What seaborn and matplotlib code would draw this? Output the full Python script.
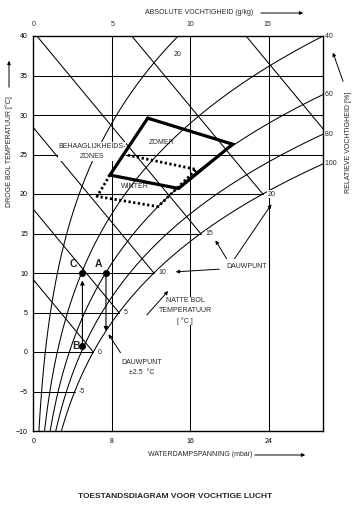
import numpy as np
import pandas as pd
import matplotlib
matplotlib.use("Agg")
import matplotlib.pyplot as plt
import seaborn as sns

# ---------------- data ----------------
sat_temp = list(range(-10, 41))
sat_pres = [2.86, 3.10, 3.35, 3.62, 3.91, 4.22, 4.55, 4.90, 5.28, 5.68,
            6.11, 6.57, 7.06, 7.58, 8.13, 8.72, 9.35, 10.02, 10.73, 11.48,
            12.28, 13.12, 14.02, 14.97, 15.98, 17.04, 18.17, 19.37, 20.63, 21.96,
            23.37, 24.86, 26.43, 28.09, 29.83, 31.67, 33.61, 35.65, 37.80, 40.06,
            42.43, 44.93, 47.55, 50.31, 53.20, 56.24, 59.42, 62.76, 66.26, 69.93, 73.78]
rh_levels = [20, 40, 60, 80, 100]
rh_right_labels = [40, 60, 80, 100]
wetbulb_levels = [0, 5, 10, 15, 20, 25]
dewpoint_labels = [-5, 0, 5, 10, 15, 20]
partial_grid_temps = [-5, 0, 5, 10, 15, 20]
full_grid_temps = [25, 30, 35]
temp_ticks = [-10, -5, 0, 5, 10, 15, 20, 25, 30, 35, 40]
pressure_ticks = [0, 8, 16, 24]
abs_hum_ticks = [0, 5, 10, 15]
zomer_p = [11.65, 20.3, 14.8, 7.8]
zomer_t = [29.6, 26.3, 20.7, 22.4]
winter_p = [7.8, 6.5, 12.7, 16.6, 9.3]
winter_t = [22.4, 19.7, 18.4, 23.1, 25.0]
point_names = ["A", "B", "C"]
point_p = [7.4, 5.0, 5.0]
point_t = [10.0, 0.8, 10.0]
dew_arrow_t = 2.3
psy_k = 0.667      # mbar per K (wet-bulb lines)
P_atm = 1013.0

W, H = 355, 512
sns.set_style("white")
plt.rcParams['font.family'] = ['Liberation Sans', 'DejaVu Sans']
fig = plt.figure(figsize=(W / 100, H / 100), dpi=100)
ax = fig.add_axes([33.3 / W, 1 - 431 / H, (323 - 33.3) / W, (431 - 36) / H])
ax.set_xlim(0, 29.5)
ax.set_ylim(-10, 40)

sat = dict(zip(sat_temp, sat_pres))
lw = 0.75
col = "black"

# relative humidity curves
rows = []
for rh in rh_levels:
    for t, ps in zip(sat_temp, sat_pres):
        rows.append({"p": ps * rh / 100.0, "T": t, "rh": rh})
df = pd.DataFrame(rows)
sns.lineplot(data=df, x="p", y="T", units="rh", estimator=None, sort=False,
             color=col, lw=lw, ax=ax, legend=False, zorder=1)

# horizontal grid lines
for t in partial_grid_temps:
    ax.plot([0, sat[t]], [t, t], color=col, lw=lw, zorder=1)
for t in full_grid_temps:
    ax.plot([0, 29.5], [t, t], color=col, lw=lw, zorder=1)
# vertical lines
for p in pressure_ticks[1:]:
    ax.plot([p, p], [-10, 40], color=col, lw=lw, zorder=1)

# wet-bulb lines
for tw in wetbulb_levels:
    ps = sat[tw]
    t_end = min(40.0, tw + ps / psy_k)
    p_end = ps - psy_k * (t_end - tw)
    ax.plot([ps, p_end], [tw, t_end], color=col, lw=lw, zorder=1)

# comfort zones
ax.plot(zomer_p + zomer_p[:1], zomer_t + zomer_t[:1], color=col, lw=2.3,
        solid_joinstyle="miter", zorder=4)
ax.plot(winter_p, winter_t, color=col, lw=2.0, ls=(0, (0.8, 0.9)), zorder=4)

# points A, B, C
ax.scatter(point_p, point_t, s=16, color=col, zorder=5)
# arrows B->C and A->dew point
ax.annotate("", xy=(point_p[2], 9.4), xytext=(point_p[1], point_t[1]),
            arrowprops=dict(arrowstyle="-|>", color=col, lw=0.8, mutation_scale=6))
ax.annotate("", xy=(point_p[0], dew_arrow_t), xytext=(point_p[0], point_t[0]),
            arrowprops=dict(arrowstyle="-|>", color=col, lw=0.8, mutation_scale=6))

for sp in ax.spines.values():
    sp.set_linewidth(1.0)
    sp.set_color(col)

fs = 5
ax.set_xticks(pressure_ticks)
ax.set_yticks(temp_ticks)
ax.tick_params(axis="both", length=0, labelsize=fs, colors=col)
ax.tick_params(axis="x", pad=5)
ax.tick_params(axis="y", pad=4)
ax.set_xlabel("")
ax.set_ylabel("")

def p2w(p):
    p = np.asarray(p, dtype=float)
    return 622.0 * p / (P_atm - p)

def w2p(w):
    w = np.asarray(w, dtype=float)
    return P_atm * w / (622.0 + w)

sec = ax.secondary_xaxis("top", functions=(p2w, w2p))
sec.set_xticks(abs_hum_ticks)
sec.tick_params(length=0, labelsize=fs, pad=6)
for sp in sec.spines.values():
    sp.set_visible(False)

# labels on the curves
for rh in rh_right_labels:
    ps_need = 29.5 * 100 / rh
    t_hit = float(np.interp(ps_need, sat_pres, sat_temp))
    ax.text(29.5, t_hit, " " + str(rh), fontsize=fs, ha="left", va="center", clip_on=False)
ax.text(14.3, 37.7, "20", fontsize=fs, ha="left", va="center")
for t in dewpoint_labels:
    ax.text(sat[t] + 0.45, t, str(t), fontsize=fs, ha="left", va="center", zorder=2,
            bbox=dict(facecolor="white", edgecolor="none", pad=0.3))

# point labels
ax.text(point_p[0] - 0.35, point_t[0] + 0.5, point_names[0], fontsize=7.5, fontweight="bold",
        ha="right", va="bottom")
ax.text(point_p[1] - 0.3, point_t[1], point_names[1], fontsize=7.5, fontweight="bold",
        ha="right", va="center")
ax.text(point_p[2] - 0.5, point_t[2] + 0.5, point_names[2], fontsize=7.5, fontweight="bold",
        ha="right", va="bottom")

def fx(x):
    return x / W

def fy(y):
    return 1 - y / H

def ptext(x, y, s, **kw):
    # text placed by figure pixel, drawn inside the axes layer (below the zone outlines)
    ax.text(fx(x), fy(y), s, transform=fig.transFigure, **kw)

white = dict(facecolor="white", edgecolor="none", pad=0.5)
ptext(162, 143, "ZOMER", fontsize=fs, ha="center", va="center", zorder=3)
ptext(135, 186, "WINTER", fontsize=fs, ha="center", va="center", zorder=3)
ptext(92, 151.5, "BEHAAGLIJKHEIDS-\nZONES", fontsize=fs, ha="center",
      va="center", linespacing=1.6, bbox=white, zorder=2)
ptext(185, 311, "NATTE BOL\nTEMPERATUUR\n[ °C ]", fontsize=fs, ha="center",
      va="center", linespacing=1.55, bbox=white, zorder=2)
ptext(247, 266, "DAUWPUNT", fontsize=fs, ha="center", va="center", bbox=white, zorder=2)
ptext(142, 368, "DAUWPUNT\n±2.5  °C", fontsize=fs, ha="center", va="center",
      linespacing=1.6, zorder=2)

arr = dict(arrowstyle="-|>", color=col, lw=0.7, mutation_scale=5)
def farrow(x0, y0, x1, y1):
    fig.add_artist(matplotlib.patches.FancyArrowPatch(
        (fx(x0), fy(y0)), (fx(x1), fy(y1)), transform=fig.transFigure, **arr))

farrow(228, 261, 214, 238)
farrow(233, 261, 273, 202)
farrow(222, 269, 173, 272)
farrow(145, 317, 170, 289)
farrow(122, 355, 107, 332)

# axis titles
fig.text(fx(145), fy(13), "ABSOLUTE VOCHTIGHEID (g/kg)", fontsize=fs, ha="left", va="center")
farrow(258, 13, 306, 13)
fig.text(fx(148), fy(455), "WATERDAMPSPANNING (mbar)", fontsize=fs, ha="left", va="center")
farrow(252, 455, 308, 455)
fig.text(fx(9), fy(152), "DROGE BOL TEMPERATUUR [°C]", fontsize=fs, rotation=90,
         ha="center", va="center")
farrow(9, 90, 9, 58)
fig.text(fx(348), fy(142), "RELATIEVE VOCHTIGHEID [%]", fontsize=fs, rotation=90,
         ha="center", va="center")
farrow(344, 84, 332, 50)
fig.text(fx(175), fy(497), "TOESTANDSDIAGRAM VOOR VOCHTIGE LUCHT", fontsize=6,
         fontweight="bold", ha="center", va="center")

fig.savefig("out.png", dpi=100, facecolor="white")
